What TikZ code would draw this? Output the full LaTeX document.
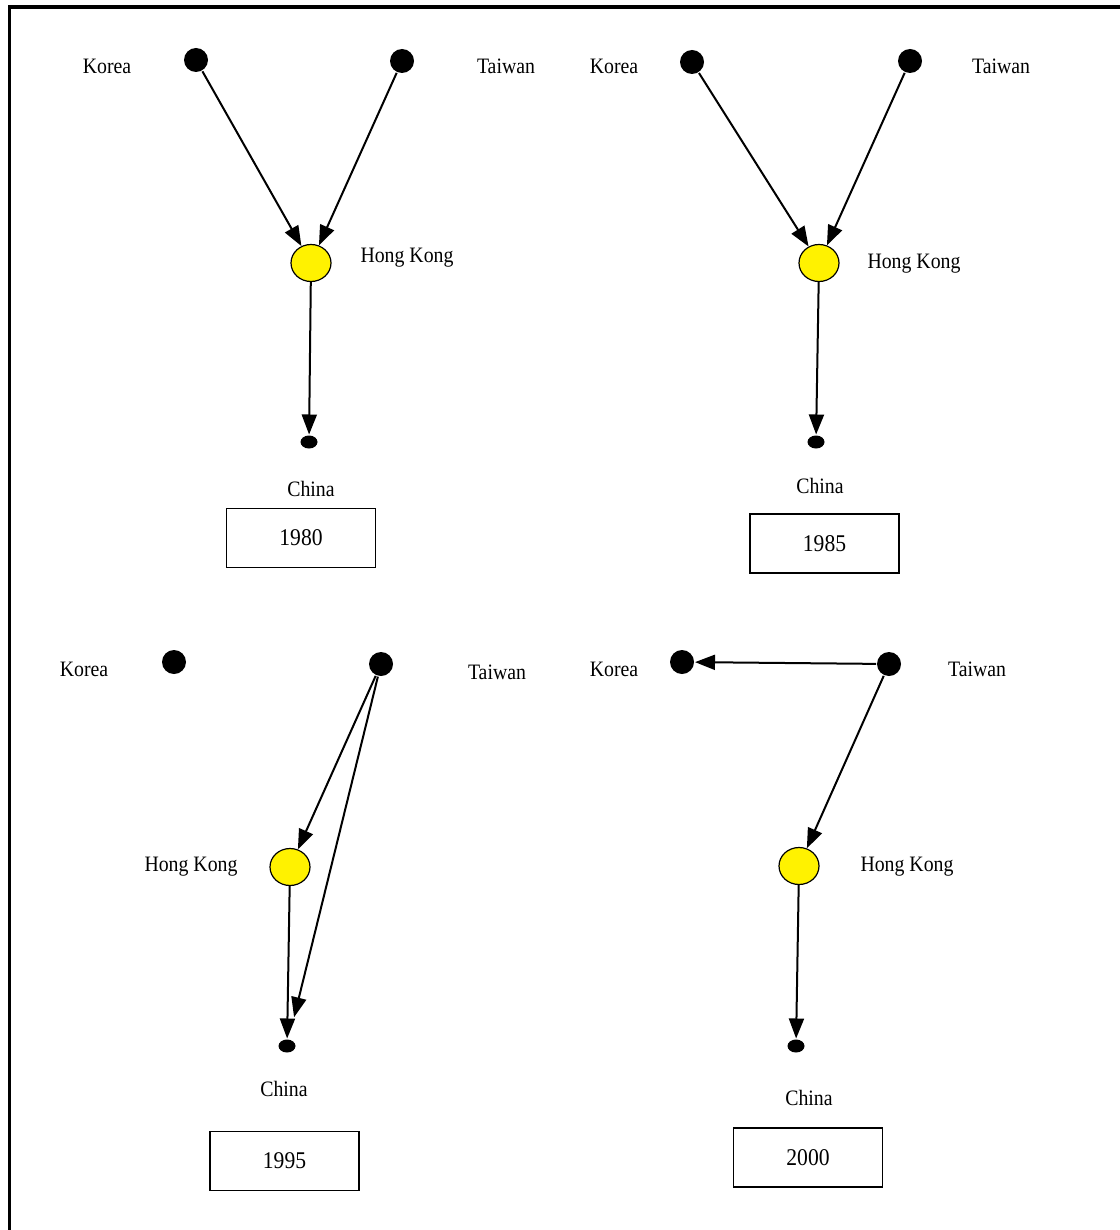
\documentclass[tikz,border=0pt]{standalone}
\usepackage{fontspec}
\setmainfont[FakeStretch=0.9]{Liberation Serif}
\usetikzlibrary{arrows.meta,shapes.geometric}

\begin{document}
\begin{tikzpicture}[x=0.5pt, y=-0.5pt, -{Triangle[length=10pt,width=7.5pt]}, line width=1pt,
        every node/.append style={font=\fontsize{11}{13}\selectfont},
        every ellipse node/.append style={inner sep=0pt}]
      \tikzstyle{economy} = [circle, fill=black, inner sep=0pt, minimum size=12pt]
      \tikzstyle{hub} = [ellipse, draw, fill=yellow, line width=0.6pt, minimum width=20pt, minimum height=18.5pt]
      \tikzstyle{target} = [ellipse, fill=black, minimum width=8.5pt, minimum height=6.5pt]
      \tikzstyle{year} = [draw, line width=0.8pt, minimum width=74.5pt, minimum height=29.5pt, font=\fontsize{12}{14}\selectfont]
      \useasboundingbox (0,0) rectangle (1119,1230);
      \draw[-, line width=1.6pt] (9.5,7) rectangle (1140,1250);

      % 1980
      \node (K1) [economy] at (196,60) {};
      \node (T1) [economy] at (402,61) {};
      \node (H1) [hub] at (311,263) {};
      \node (C1) [target] at (309,442) {};
      \node at (107,66) {Korea};
      \node at (506,66) {Taiwan};
      \node at (407,258) {Hong Kong};
      \node at (311,489) {China};
      \node (Y1) [year] at (301,538) {1980};
      \draw (K1) -- (H1);
      \draw (T1) -- (H1);
      \draw (H1) -- (C1);

      % 1985
      \node (K2) [economy] at (692,62) {};
      \node (T2) [economy] at (910,61) {};
      \node (H2) [hub] at (819,263) {};
      \node (C2) [target] at (816,442) {};
      \node at (614,66) {Korea};
      \node at (1001,66) {Taiwan};
      \node at (914,264) {Hong Kong};
      \node at (820,486) {China};
      \node (Y2) [year] at (824.5,543.5) {1985};
      \draw (K2) -- (H2);
      \draw (T2) -- (H2);
      \draw (H2) -- (C2);

      % 1995
      \node (K3) [economy] at (174,662) {};
      \node (T3) [economy] at (381,664) {};
      \node (H3) [hub] at (290,867) {};
      \node (C3) [target] at (287,1046) {};
      \node at (84,669) {Korea};
      \node at (497,672) {Taiwan};
      \node at (191,867) {Hong Kong};
      \node at (284,1089) {China};
      \node (Y3) [year] at (284.5,1161) {1995};
      \draw (T3) -- (H3);
      \draw (H3) -- (C3);
      \draw[shorten >=11pt] (T3) -- (C3);

      % 2000
      \node (K4) [economy] at (682,662) {};
      \node (T4) [economy] at (889,664) {};
      \node (H4) [hub] at (799,866) {};
      \node (C4) [target] at (796,1046) {};
      \node at (614,669) {Korea};
      \node at (977,669) {Taiwan};
      \node at (907,867) {Hong Kong};
      \node at (809,1098) {China};
      \node (Y4) [year] at (808,1157.5) {2000};
      \draw (T4) -- (K4);
      \draw (T4) -- (H4);
      \draw (H4) -- (C4);
    \end{tikzpicture}
\end{document}
